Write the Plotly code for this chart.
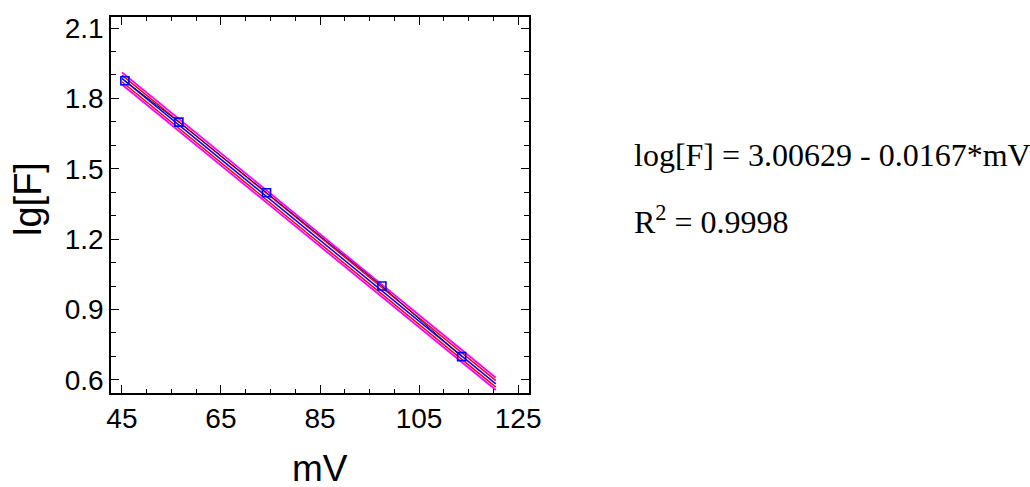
import plotly.graph_objects as go

# Data
mv = [45.6, 56.5, 74.2, 97.5, 113.6]
lgF = [1.875, 1.699, 1.398, 1.000, 0.699]

# Fitted line and band end points
fit_x = [45.0, 120.5]
fit_y = [1.885, 0.583]
conf_up = [1.899, 0.597]
conf_lo = [1.871, 0.569]
pred_up = [1.911, 0.609]
pred_lo = [1.859, 0.557]

x_ticks = [45, 65, 85, 105, 125]
y_ticks = [0.6, 0.9, 1.2, 1.5, 1.8, 2.1]

equation = "log[F] = 3.00629 - 0.0167*mV"
r2_text = "R<sup>2</sup> = 0.9998"

fig = go.Figure()
for ys, col, w in [(pred_up, "#FF00FF", 1.8), (pred_lo, "#FF00FF", 1.8),
                   (conf_up, "#FF0000", 1.5), (conf_lo, "#FF0000", 1.5),
                   (fit_y, "#0000FF", 1.5)]:
    fig.add_trace(go.Scatter(x=fit_x, y=ys, mode="lines",
                             line=dict(color=col, width=w), showlegend=False,
                             hoverinfo="skip"))
fig.add_trace(go.Scatter(x=mv, y=lgF, mode="lines+markers",
                         line=dict(color="#000060", width=1),
                         marker=dict(symbol="square-open", size=8,
                                     color="#0000FF", line=dict(width=1.6, color="#0000FF")),
                         showlegend=False))

axis_common = dict(showline=True, linecolor="black", linewidth=1.5, mirror="ticks",
                   ticks="inside", ticklen=8, tickwidth=1.3, tickcolor="black",
                   showgrid=False, zeroline=False,
                   tickfont=dict(family="Liberation Sans, Arial", size=28, color="black"))

fig.update_xaxes(range=[42.8, 127.2], tickvals=x_ticks,
                 minor=dict(dtick=5, tick0=45, ticks="inside", ticklen=4,
                            tickwidth=1.2, tickcolor="black"),
                 **axis_common)
fig.update_yaxes(range=[0.544, 2.147], tickvals=y_ticks,
                 ticktext=[f"{v:.1f}" for v in y_ticks],
                 minor=dict(dtick=0.1, tick0=0.6, ticks="inside", ticklen=5,
                            tickwidth=1.2, tickcolor="black"),
                 **axis_common)

fig.update_layout(
    width=1030, height=487,
    margin=dict(l=111, r=501, t=17, b=94),
    plot_bgcolor="white", paper_bgcolor="white",
    annotations=[
        dict(text="mV", xref="paper", yref="paper", x=(320 - 111) / 418,
             y=-(468 - 393) / 376, xanchor="center", yanchor="middle",
             showarrow=False, font=dict(family="Liberation Sans, Arial", size=37, color="black")),
        dict(text="lg[F]", xref="paper", yref="paper", x=-(111 - 28) / 418,
             y=(393 - 199) / 376, xanchor="center", yanchor="middle", textangle=-90,
             showarrow=False, font=dict(family="Liberation Sans, Arial", size=38, color="black")),
        dict(text=equation, xref="paper", yref="paper", x=(632 - 111) / 418,
             y=(393 - 155) / 376, xanchor="left", yanchor="middle",
             showarrow=False, font=dict(family="Liberation Serif, Times New Roman", size=32, color="black")),
        dict(text=r2_text, xref="paper", yref="paper", x=(632 - 111) / 418,
             y=(393 - 220) / 376, xanchor="left", yanchor="middle",
             showarrow=False, font=dict(family="Liberation Serif, Times New Roman", size=32, color="black")),
    ],
)

fig.write_html("out.html", config={"displayModeBar": False},
               post_script="document.body.style.margin='0';document.body.style.overflow='hidden';")
